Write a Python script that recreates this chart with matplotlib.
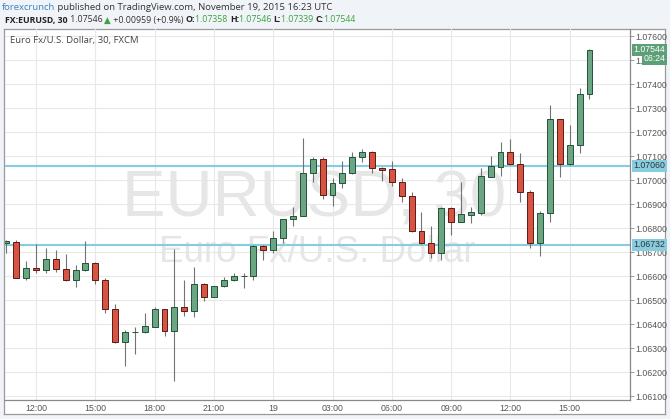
import numpy as np
import matplotlib
matplotlib.use("Agg")
import matplotlib.pyplot as plt
from matplotlib.patches import Rectangle
import matplotlib.transforms as mtransforms

# --- EURUSD 30 min candles, 18 Nov 10:30 -> 19 Nov 16:00 (index 0 = 18 Nov 12:00) ---
bar_index = list(range(-3, 57))
opens = [1.06739, 1.06742, 1.06594, 1.06633, 1.06625, 1.06671, 1.06630, 1.06583, 1.06625, 1.06657,
         1.06585, 1.06463, 1.06326, 1.06366, 1.06367, 1.06390, 1.06463, 1.06373, 1.06471, 1.06457,
         1.06567, 1.06515, 1.06558, 1.06583, 1.06602, 1.06600, 1.06728, 1.06711, 1.06758, 1.06839,
         1.06853, 1.07032, 1.07090, 1.06938, 1.06988, 1.07029, 1.07096, 1.07118, 1.07051, 1.07046,
         1.06992, 1.06933, 1.06789, 1.06738, 1.06698, 1.06883, 1.06828, 1.06855, 1.06865, 1.07015,
         1.07057, 1.07119, 1.07067, 1.06950, 1.06738, 1.06863, 1.07254, 1.07067, 1.07147, 1.07358]
highs = [1.06751, 1.06751, 1.06664, 1.06735, 1.06718, 1.06708, 1.06693, 1.06648, 1.06747, 1.06659,
         1.06592, 1.06485, 1.06378, 1.06389, 1.06446, 1.06473, 1.06465, 1.06714, 1.06586, 1.06639,
         1.06573, 1.06560, 1.06598, 1.06614, 1.06615, 1.06730, 1.06730, 1.06789, 1.06840, 1.06890,
         1.07176, 1.07096, 1.07096, 1.07008, 1.07082, 1.07117, 1.07129, 1.07123, 1.07057, 1.07082,
         1.07008, 1.06953, 1.06869, 1.06810, 1.06888, 1.06888, 1.06994, 1.06890, 1.07050, 1.07101,
         1.07158, 1.07172, 1.07113, 1.06960, 1.06872, 1.07314, 1.07256, 1.07230, 1.07383, 1.07546]
lows = [1.06698, 1.06592, 1.06585, 1.06613, 1.06613, 1.06619, 1.06580, 1.06557, 1.06622, 1.06568,
        1.06448, 1.06321, 1.06228, 1.06275, 1.06365, 1.06390, 1.06353, 1.06164, 1.06436, 1.06432,
        1.06498, 1.06513, 1.06557, 1.06581, 1.06550, 1.06585, 1.06668, 1.06696, 1.06740, 1.06810,
        1.06851, 1.06994, 1.06923, 1.06894, 1.06967, 1.07027, 1.07078, 1.07032, 1.06998, 1.06978,
        1.06911, 1.06786, 1.06736, 1.06678, 1.06668, 1.06772, 1.06826, 1.06823, 1.06854, 1.07013,
        1.07019, 1.07064, 1.06911, 1.06717, 1.06686, 1.06828, 1.07013, 1.07065, 1.07113, 1.07339]
closes = [1.06745, 1.06594, 1.06633, 1.06625, 1.06671, 1.06630, 1.06583, 1.06625, 1.06657, 1.06583,
          1.06463, 1.06326, 1.06367, 1.06367, 1.06393, 1.06463, 1.06373, 1.06471, 1.06457, 1.06567,
          1.06515, 1.06558, 1.06583, 1.06600, 1.06603, 1.06728, 1.06710, 1.06758, 1.06839, 1.06853,
          1.07032, 1.07090, 1.06938, 1.06988, 1.07029, 1.07096, 1.07118, 1.07051, 1.07044, 1.06992,
          1.06933, 1.06789, 1.06738, 1.06698, 1.06883, 1.06828, 1.06858, 1.06868, 1.07018, 1.07060,
          1.07119, 1.07067, 1.06950, 1.06738, 1.06863, 1.07254, 1.07067, 1.07147, 1.07358, 1.07544]

time_ticks = [0, 6, 12, 18, 24, 30, 36, 42, 48, 54]
time_labels = ["12:00", "15:00", "18:00", "21:00", "19", "03:00", "06:00", "09:00", "12:00", "15:00"]
price_ticks = [1.061, 1.062, 1.063, 1.064, 1.065, 1.066, 1.067, 1.068,
               1.069, 1.070, 1.071, 1.072, 1.073, 1.074, 1.075, 1.076]
level_lines = [1.07060, 1.06732]
last_price = 1.07544
countdown = "06:24"

UP, DOWN = "#6ba583", "#d75442"
UP_EDGE, DOWN_EDGE = "#225437", "#5b1a13"
WICK = "#737375"
LEVEL = "#86cde0"
TAG_GREEN = "#5f9f78"
BG = "#f0f3f7"

W, H = 670, 419
fig = plt.figure(figsize=(W / 100, H / 100), dpi=100, facecolor=BG)

def px_box(x0, y0, x1, y1):
    # pixel box (from top-left) -> figure fraction [left, bottom, width, height]
    return [x0 / W, (H - y1) / H, (x1 - x0) / W, (y1 - y0) / H]

# outer chart frame as a blank axes underneath
frame = fig.add_axes(px_box(4, 29, 665, 414))
frame.set_xticks([])
frame.set_yticks([])
frame.set_facecolor("white")
for s in frame.spines.values():
    s.set_color("#9a9a9a")
    s.set_linewidth(0.9)
frame.set_zorder(0)

ax = fig.add_axes(px_box(5, 29, 630, 400.3))
ax.set_zorder(1)
ax.set_facecolor("none")
ax.set_xlim(-3.14, 60.1)
ax.set_ylim(1.060833, 1.076304)

# grid
for t in time_ticks:
    ax.axvline(t, color="#e8e8e8", lw=0.8, zorder=0.2)
for p in price_ticks:
    ax.axhline(p, color="#e8e8e8", lw=0.8, zorder=0.2)

# watermark
ax.text(0.494, 0.496, "EURUSD, 30", transform=ax.transAxes, ha="center", va="baseline",
        fontsize=47, family="Liberation Sans", color="#e6e6e6", zorder=0.3)
ax.text(0.499, 0.3725, "Euro Fx/U.S. Dollar", transform=ax.transAxes, ha="center", va="baseline",
        fontsize=26.5, family="Liberation Sans", color="#e6e6e6", zorder=0.3)

# support / resistance levels
for lv in level_lines:
    ax.axhline(lv, color=LEVEL, lw=1.5, zorder=1)

# candles
body_w = 0.6
for i, o, h, l, c in zip(bar_index, opens, highs, lows, closes):
    up = c >= o
    ax.vlines(i, l, h, color=WICK, lw=0.8, zorder=2)
    lo, hi = min(o, c), max(o, c)
    ax.add_patch(Rectangle((i - body_w / 2, lo), body_w, max(hi - lo, 0.00001),
                           facecolor=UP if up else DOWN, edgecolor=UP_EDGE if up else DOWN_EDGE,
                           lw=0.7, zorder=3))

# axes styling
for side in ["top", "left"]:
    ax.spines[side].set_visible(False)
for side in ["right", "bottom"]:
    ax.spines[side].set_color("#888888")
    ax.spines[side].set_linewidth(0.9)
ax.yaxis.tick_right()
ax.set_yticks(price_ticks)
# the 1.07500 label is mostly hidden behind the bar countdown tag
ax.set_yticklabels(["1." if abs(p - 1.075) < 1e-9 else f"{p:.5f}" for p in price_ticks])
ax.tick_params(axis="y", length=3, width=0.6, color="#888888", pad=1,
               labelsize=6.3, labelcolor="#555555")
ax.set_xticks(time_ticks)
ax.set_xticklabels(time_labels)
ax.tick_params(axis="x", length=0, pad=3, labelsize=6.3, labelcolor="#555555")
for lab in ax.get_xticklabels() + ax.get_yticklabels():
    lab.set_family("Liberation Sans")

# price labels on the right axis
ytrans = mtransforms.blended_transform_factory(ax.transAxes, ax.transData)
def axis_tag(x, y, text, bg, fg):
    ax.text(x, y, text, transform=ytrans, ha="left", va="center", fontsize=6.3,
            family="Liberation Sans", color=fg, zorder=10, clip_on=False,
            bbox=dict(boxstyle="square,pad=0.18", facecolor=bg, edgecolor="none"))

for lv in level_lines:
    axis_tag(1.0055, lv, f"{lv:.5f}", LEVEL, "#333333")
axis_tag(1.0055, last_price, f"{last_price:.5f}", TAG_GREEN, "white")
axis_tag(1.0215, 1.07506, countdown, TAG_GREEN, "white")

ax.text(0.008, 0.9677, "Euro Fx/U.S. Dollar, 30, FXCM", transform=ax.transAxes,
        ha="left", va="center", fontsize=6.8, family=["Open Sans", "DejaVu Sans"], color="#444444")

# header rows, drawn piece by piece
renderer = fig.canvas.get_renderer()
def text_row(x_px, y_px, parts, size=6.8):
    x = x_px
    for s, color, weight in parts:
        t = fig.text(x / W, 1 - y_px / H, s, ha="left", va="center", fontsize=size,
                     color=color, weight=weight, family=["Open Sans", "DejaVu Sans"])
        x += t.get_window_extent(renderer).width

GREEN = "#3aa53f"
text_row(2, 7, [("forexcrunch", "#3b82c4", "normal"),
                (" published on TradingView.com, November 19, 2015 16:23 UTC", "#333333", "normal")])
text_row(5, 20, [("FX:EURUSD, 30", "#222222", "bold"),
                 (" 1.07546 ", "#333333", "normal"),
                 ("\u25b2", GREEN, "normal"),
                 (" +0.00959 (+0.9%) ", "#333333", "normal"),
                 ("O:", "#222222", "bold"), ("1.07358 ", GREEN, "normal"),
                 ("H:", "#222222", "bold"), ("1.07546 ", GREEN, "normal"),
                 ("L:", "#222222", "bold"), ("1.07339 ", GREEN, "normal"),
                 ("C:", "#222222", "bold"), ("1.07544", GREEN, "normal")], size=6.3)

fig.savefig("out.png", dpi=100, facecolor=BG)
